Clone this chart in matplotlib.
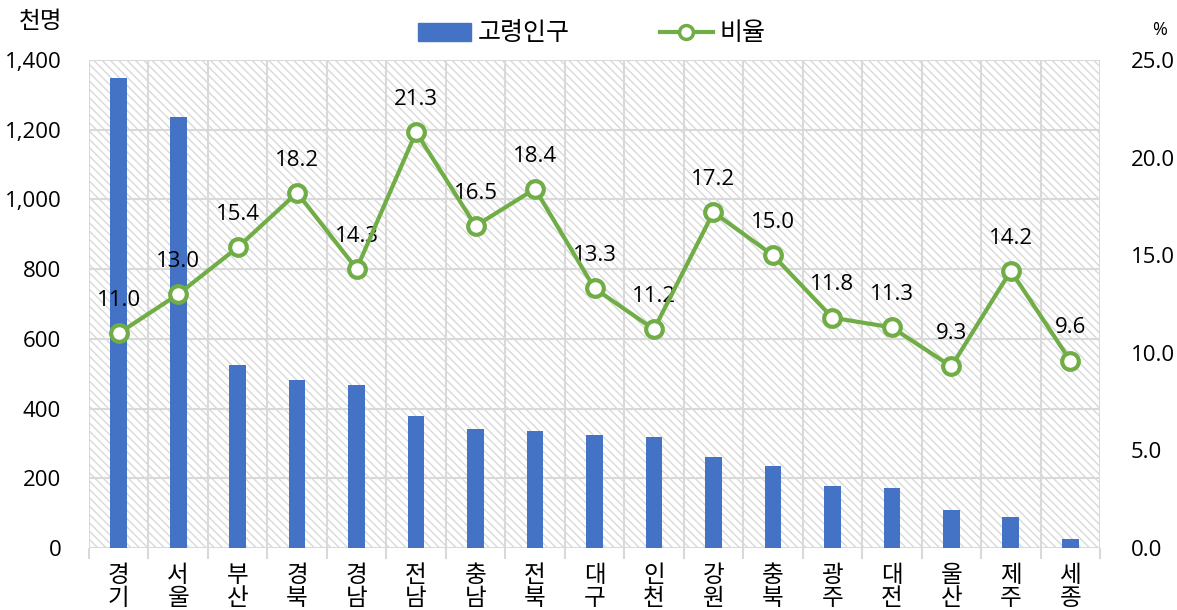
import matplotlib
matplotlib.use("Agg")
import matplotlib.pyplot as plt
from matplotlib.patches import Rectangle
from matplotlib.lines import Line2D
import numpy as np

plt.rcParams["font.family"] = ["Open Sans", "Noto Sans CJK KR", "DejaVu Sans"]
plt.rcParams["hatch.linewidth"] = 1.0
plt.rcParams["hatch.color"] = "#d9d9d9"

regions = ["경기", "서울", "부산", "경북", "경남", "전남", "충남", "전북", "대구",
           "인천", "강원", "충북", "광주", "대전", "울산", "제주", "세종"]
elderly = [1348, 1236, 525, 482, 468, 379, 341, 336, 324,
           318, 261, 235, 178, 172, 109, 89, 26]
ratio = [11.0, 13.0, 15.4, 18.2, 14.3, 21.3, 16.5, 18.4, 13.3,
         11.2, 17.2, 15.0, 11.8, 11.3, 9.3, 14.2, 9.6]

BLUE = "#4472C4"
GREEN = "#70AD47"
GRID = "#d9d9d9"
NUM_FS = 16
KOR_FS = 17

fig = plt.figure(figsize=(11.77, 6.10), dpi=100)
ax = fig.add_axes([89 / 1177, 1 - 548 / 610, (1100 - 89) / 1177, (548 - 60) / 610])
x = np.arange(len(regions))

# hatched background
ax.add_patch(Rectangle((0, 0), 1, 1, transform=ax.transAxes, fill=False,
                       hatch="\\\\\\\\", edgecolor=GRID, lw=0, zorder=0))

ax.bar(x, elderly, width=0.28, color=BLUE, zorder=3)
ax.set_xlim(-0.5, len(regions) - 0.5)
ax.set_ylim(0, 1400)
ax.set_yticks(range(0, 1401, 200))
ax.set_yticklabels([f"{v:,}" for v in range(0, 1401, 200)], fontsize=NUM_FS)
for v in range(200, 1401, 200):
    ax.axhline(v, color=GRID, lw=1.5, zorder=1)
for b in np.arange(-0.5, len(regions), 1.0):
    ax.axvline(b, color=GRID, lw=1.5, zorder=1)
ax.axhline(0, color=GRID, lw=1.5, zorder=2)

ax.set_xticks(np.arange(-0.5, len(regions), 1.0))
ax.set_xticklabels([])
ax.tick_params(axis="x", length=8, color=GRID, width=1.5)
ax.tick_params(axis="y", length=0, pad=20)
for i, r in enumerate(regions):
    ax.text(i, -45, "\n".join(r), ha="center", va="top", fontsize=KOR_FS,
            linespacing=0.95)
for s in ax.spines.values():
    s.set_visible(False)

ax2 = ax.twinx()
ax2.plot(x, ratio, color=GREEN, lw=3, marker="o", ms=12, mfc="white",
         mec=GREEN, mew=3, zorder=5)
ax2.set_ylim(0, 25)
ax2.set_yticks(np.arange(0, 25.1, 5))
ax2.set_yticklabels([f"{v:.1f}" for v in np.arange(0, 25.1, 5)], fontsize=NUM_FS)
ax2.tick_params(axis="y", length=0, pad=22)
for s in ax2.spines.values():
    s.set_visible(False)
for i, v in enumerate(ratio):
    ax2.annotate(f"{v:.1f}", (i, v), textcoords="offset points", xytext=(0, 16),
                 ha="center", va="bottom", fontsize=NUM_FS)

fig.text(41 / 1177, 1 - 22 / 610, "천명", ha="center", va="center", fontsize=KOR_FS)
fig.text(1160 / 1177, 1 - 30 / 610, "%", ha="center", va="center", fontsize=13)

handles = [Rectangle((0, 0), 1, 1, color=BLUE),
           Line2D([], [], color=GREEN, lw=3, marker="o", ms=10, mfc="white",
                  mec=GREEN, mew=2.5)]
fig.legend(handles, ["고령인구", "비율"], loc="center", ncol=2,
           bbox_to_anchor=(592 / 1177, 1 - 34 / 610), frameon=False, fontsize=18,
           columnspacing=3.6, handlelength=2.1, handletextpad=0.3)

fig.savefig("out.png", dpi=100)
